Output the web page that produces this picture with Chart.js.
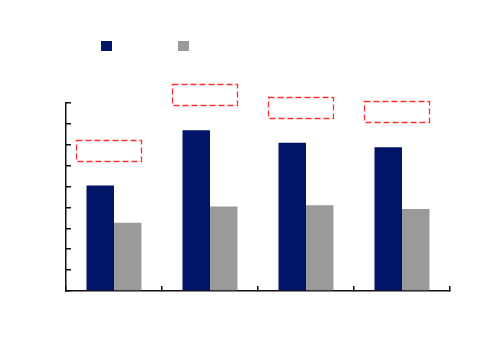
<!DOCTYPE html>
<html lang="en">

<head>
  <meta charset="UTF-8">
  <script src="https://cdn.jsdelivr.net/npm/chart.js@4.4.1/dist/chart.umd.min.js"></script>
  <title>Bars</title>
  <style>
    body { margin: 0; background: #fff; }
  </style>
</head>

<body>
  <canvas id="myChart" width="500" height="357"></canvas>
  <script>
    const categories = ['1', '2', '3', '4'];
    const seriesNavy = [5.05, 7.7, 7.1, 6.88];
    const seriesGray = [3.27, 4.04, 4.1, 3.93];
    const yMin = 0;
    const yMax = 9;
    const yStep = 1;

    // dashed empty label boxes above each group
    const labelBoxes = {
      id: 'labelBoxes',
      afterDatasetsDraw(chart) {
        const { ctx, scales: { x, y } } = chart;
        ctx.save();
        ctx.strokeStyle = '#ff3030';
        ctx.lineWidth = 1.3;
        ctx.setLineDash([6, 3]);
        categories.forEach((c, i) => {
          const cx = x.getPixelForValue(i) - 6;
          const top = y.getPixelForValue(Math.max(seriesNavy[i], seriesGray[i]));
          ctx.strokeRect(Math.round(cx - 32.5) + 0.5, Math.round(top - 46) + 0.5, 65, 21);
        });
        ctx.restore();
      }
    };

    new Chart('myChart', {
      type: 'bar',
      data: {
        labels: categories,
        datasets: [
          { label: 'A', data: seriesNavy, backgroundColor: '#001468', borderWidth: 0 },
          { label: 'B', data: seriesGray, backgroundColor: '#9a9a9a', borderWidth: 0 }
        ]
      },
      options: {
        responsive: false,
        animation: false,
        categoryPercentage: 0.573,
        barPercentage: 1,
        layout: { padding: { left: 41, right: 50, top: -20, bottom: 66 } },
        plugins: {
          tooltip: { enabled: false },
          legend: {
            position: 'top',
            align: 'start',
            weight: 1000,
            labels: {
              boxWidth: 11,
              boxHeight: 10,
              padding: 60,
              font: { size: 12 },
              generateLabels: (chart) => Chart.defaults.plugins.legend.labels.generateLabels(chart)
                .map(item => ({ ...item, text: '' }))
            }
          },
          title: {
            display: true,
            text: '',
            weight: 500,
            font: { size: 12 },
            padding: { top: 0, bottom: 26.6 }
          }
        },
        scales: {
          x: {
            ticks: { display: false },
            grid: { drawOnChartArea: false, drawTicks: true, tickLength: -5, color: '#111', lineWidth: 1.5 },
            border: { color: '#111', width: 1.5 },
            afterFit: (s) => { s.height = 0; }
          },
          y: {
            min: yMin,
            max: yMax,
            ticks: { display: false, stepSize: yStep },
            grid: { drawOnChartArea: false, drawTicks: true, tickLength: -5, color: '#111', lineWidth: 1.5 },
            border: { color: '#111', width: 1.5 },
            afterFit: (s) => { s.width = 25; }
          }
        }
      },
      plugins: [labelBoxes]
    });
  </script>
</body>

</html>
